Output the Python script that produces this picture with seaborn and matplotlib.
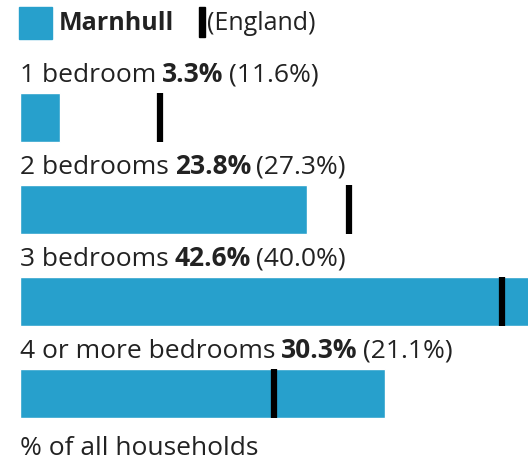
import matplotlib
matplotlib.use("Agg")
import pandas as pd
import seaborn as sns
import matplotlib.pyplot as plt
from matplotlib.patches import Rectangle

# data
categories = ["1 bedroom", "2 bedrooms", "3 bedrooms", "4 or more bedrooms"]
marnhull = [3.3, 23.8, 42.6, 30.3]
england = [11.6, 27.3, 40.0, 21.1]

BLUE = "#27A0CC"
TXT = "#222222"
W, H = 528, 462

sns.set_theme(style="white")
plt.rcParams["font.family"] = ["Open Sans", "DejaVu Sans"]

df = pd.DataFrame({"category": categories, "marnhull": marnhull, "england": england})

fig = plt.figure(figsize=(W / 100, H / 100), dpi=100)
ax = fig.add_axes([20 / W, 0, 1 - 20 / W, 1])

bar_w = 0.53
sns.barplot(data=df, x="marnhull", y="category", orient="h", color=BLUE,
            saturation=1, width=bar_w, ax=ax)
ax.vlines(df["england"], [i - bar_w / 2 for i in range(len(df))],
          [i + bar_w / 2 for i in range(len(df))], color="black", linewidth=4.5)

# pixel-based vertical layout: bar centres every 92px, first at 117.5px
def y_of(p):
    return (p - 117.5) / 92

ax.set_xlim(0, 42.15)
ax.set_ylim(y_of(H), y_of(0))
ax.axis("off")

fs = 19
renderer = fig.canvas.get_renderer()


def next_x(txt, gap_px):
    bb = txt.get_window_extent(renderer)
    return ax.transData.inverted().transform((bb.x1 + gap_px, 0))[0]


for i, row in df.iterrows():
    y = y_of(117.5 + 92 * i - 36)
    t1 = ax.text(0, y, row["category"], fontsize=fs, va="baseline", color=TXT)
    t2 = ax.text(next_x(t1, 6), y, f"{row['marnhull']:.1f}%", fontsize=fs,
                 fontweight="bold", va="baseline", color=TXT)
    ax.text(next_x(t2, 5), y, f"({row['england']:.1f}%)", fontsize=fs,
            va="baseline", color=TXT)

ax.text(0, y_of(448), "% of all households", fontsize=fs, va="center", color=TXT)

# legend
def fx(p):
    return p / W

def fy(p):
    return 1 - p / H

fig.patches.append(Rectangle((fx(19), fy(39)), fx(52) - fx(19), fy(7) - fy(39),
                             transform=fig.transFigure, color=BLUE))
fig.text(fx(59), fy(23), "Marnhull", fontsize=18, fontweight="bold", va="center",
         color=TXT)
fig.patches.append(Rectangle((fx(199), fy(37)), fx(205) - fx(199), fy(7) - fy(37),
                             transform=fig.transFigure, color="black"))
fig.text(fx(207), fy(23), "(England)", fontsize=18, va="center", color=TXT)

fig.savefig("out.png", dpi=100)
